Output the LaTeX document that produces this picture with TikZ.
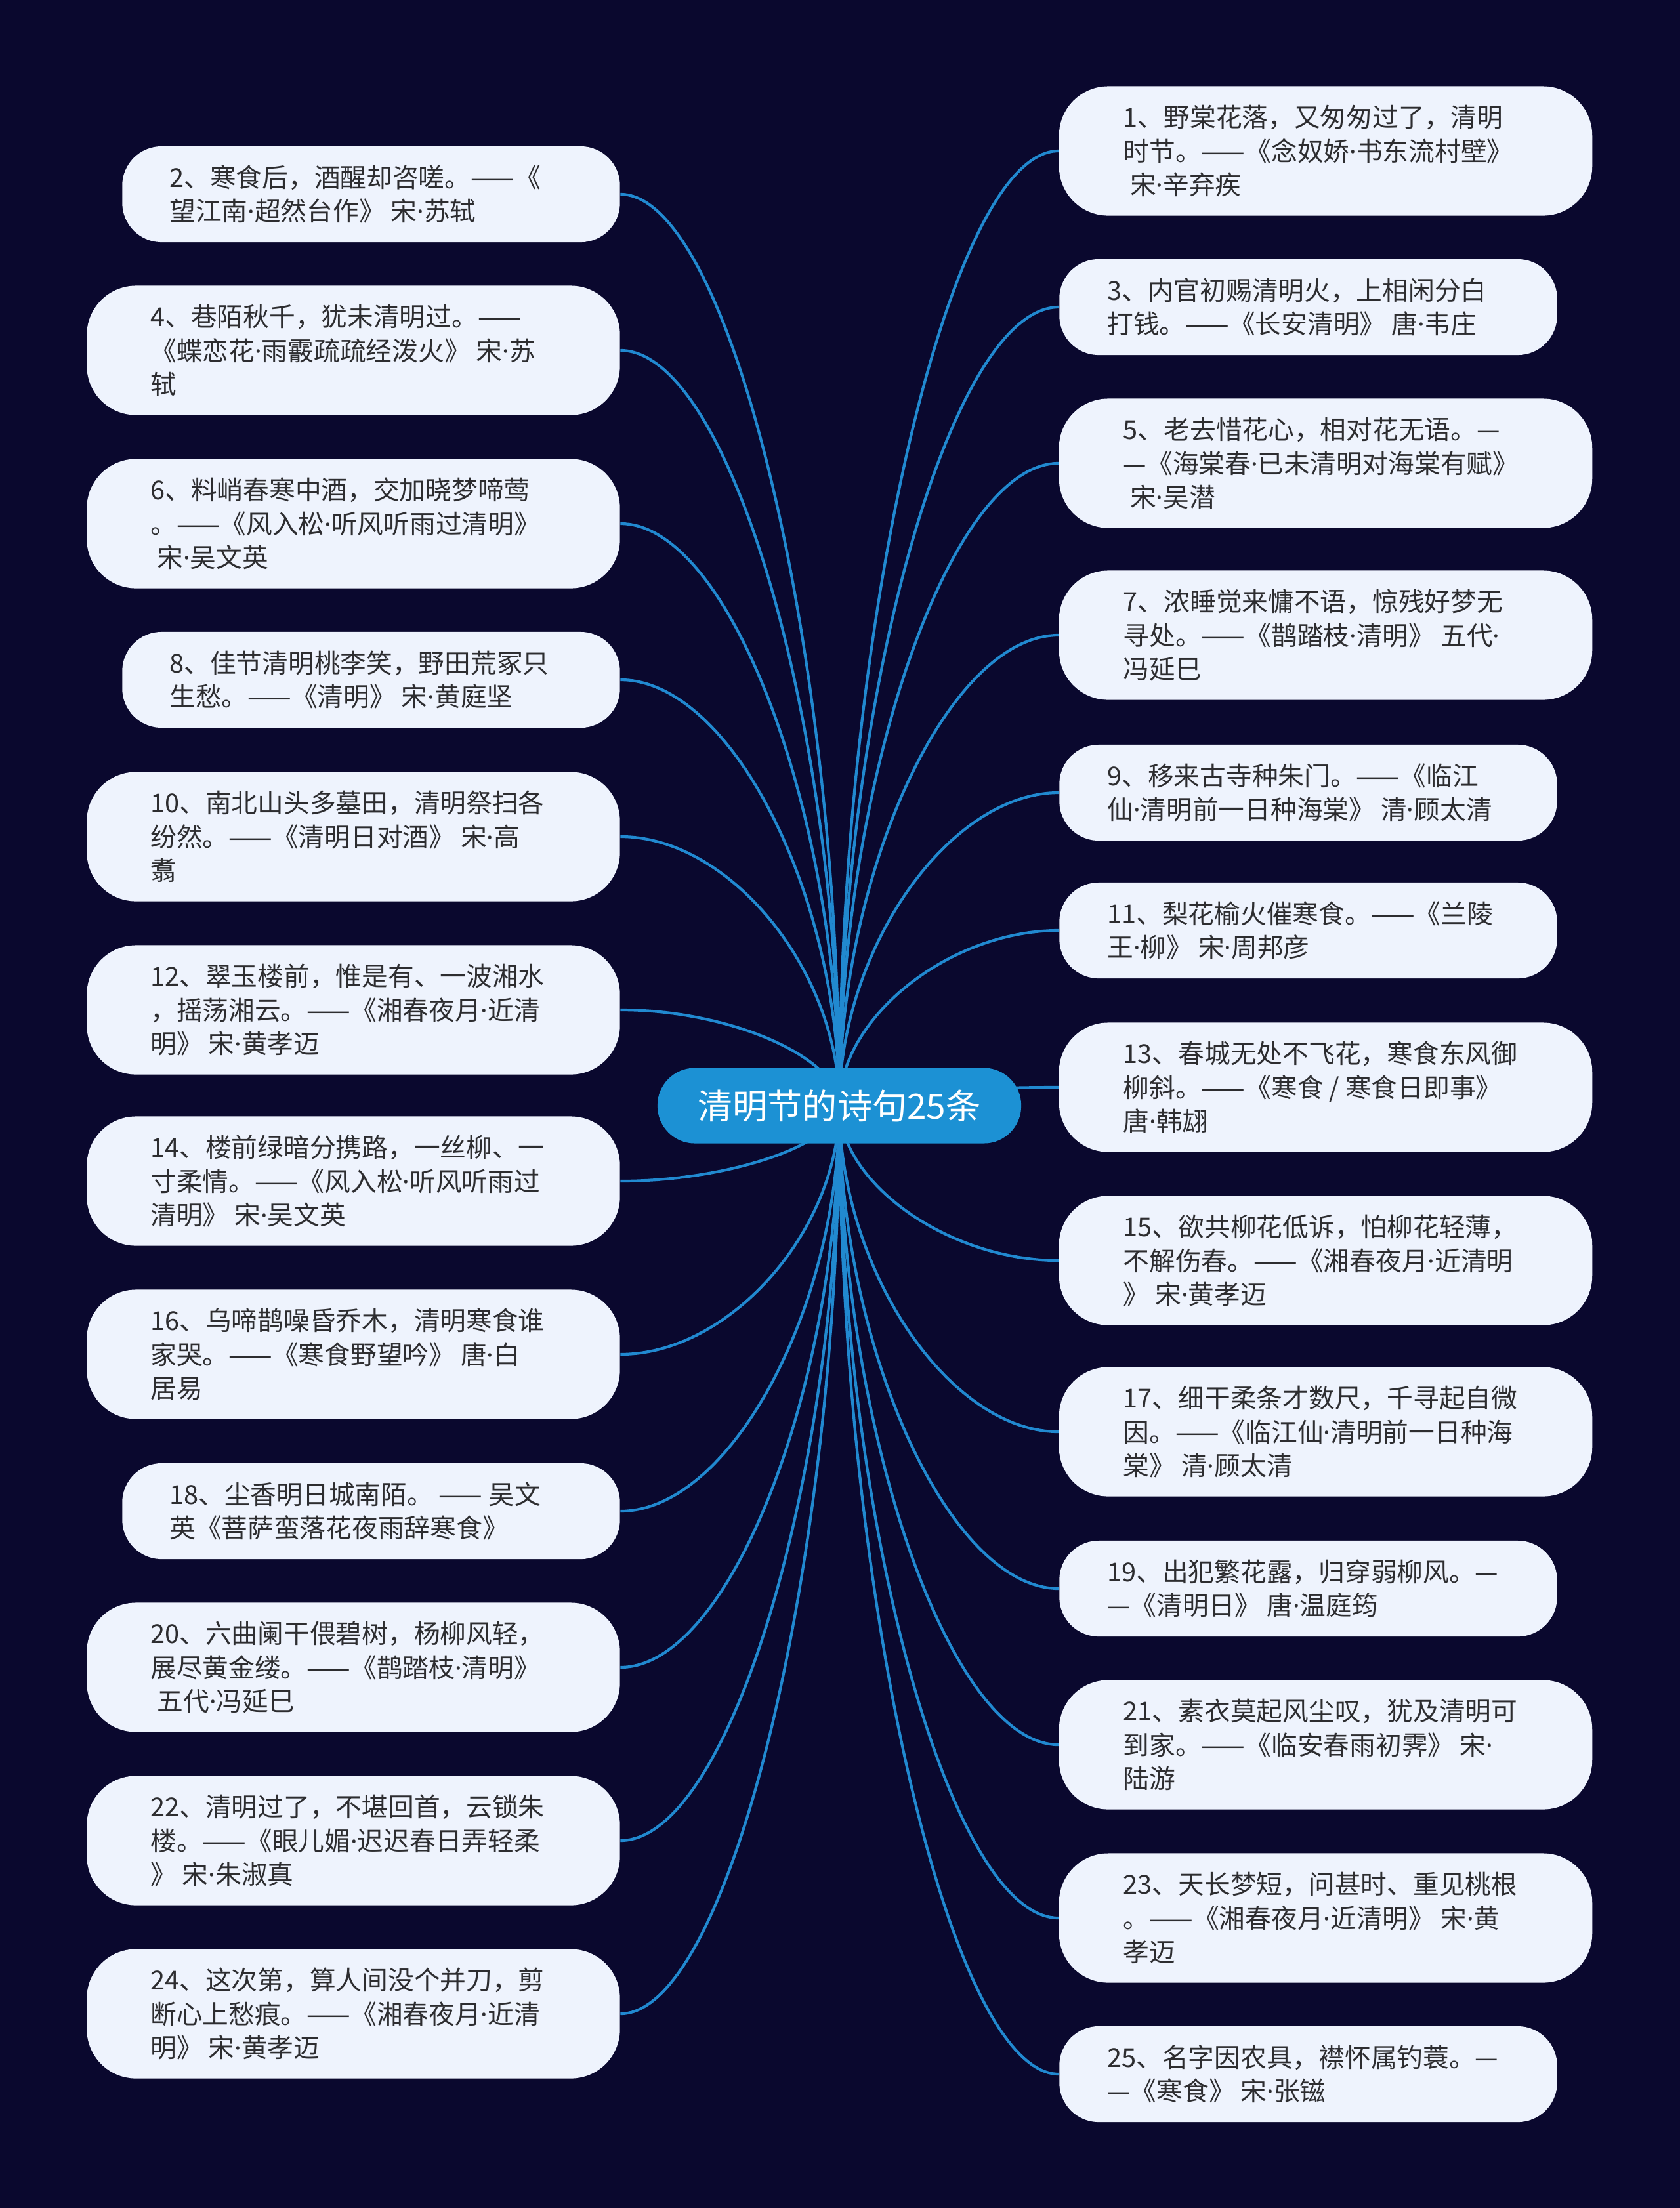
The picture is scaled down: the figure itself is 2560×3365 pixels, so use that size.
\documentclass[tikz,border=0pt]{standalone}
\usepackage{fontspec}
\setmainfont{Noto Sans CJK SC}
\newfontfamily\dotfont{Noto Sans}
\usetikzlibrary{calc}
\definecolor{bgc}{RGB}{10,8,46}
\definecolor{boxc}{RGB}{238,243,253}
\definecolor{txtc}{RGB}{45,45,48}
\definecolor{edgec}{RGB}{33,137,208}
\definecolor{rootc}{RGB}{28,145,212}
\pgfdeclarelayer{bglayer}
\pgfdeclarelayer{edgelayer}
\pgfsetlayers{bglayer,edgelayer,main}
\newcommand\lsp{\hspace*{0.26em}}
\newcommand\md{{\dotfont ·}}
\newcommand\mkleaf[6]{%
  \node[#2] (n#1) at (#3,#4) {};
  \node[txt] (t#1) at ($(n#1.west)+(#5,0)$) {#6};}
\newcommand\linkR[1]{\draw[edge] let \p1=(root.center), \p2=(n#1.west) in
  (\p1) .. controls (\x1,{0.5*\y1+0.5*\y2}) and ({0.5*\x1+0.5*\x2},\y2) .. (\p2);}
\newcommand\linkL[1]{\draw[edge] let \p1=(root.center), \p2=(n#1.east) in
  (\p1) .. controls (\x1,{0.5*\y1+0.5*\y2}) and ({0.5*\x1+0.5*\x2},\y2) .. (\p2);}
\begin{document}
\begin{tikzpicture}[x=0.01cm,y=-0.01cm,
  boxthree/.style={fill=boxc,rounded corners=0.75cm,minimum width=8.12cm,minimum height=1.97cm,inner sep=0pt},
  boxtwo/.style={fill=boxc,rounded corners=0.6cm,minimum width=7.58cm,minimum height=1.46cm,inner sep=0pt},
  txt/.style={anchor=west,align=left,inner sep=0pt,text=txtc,font=\fontsize{11.3pt}{14.65pt}\selectfont},
  rootbox/.style={fill=rootc,text=white,rounded corners=0.57cm,minimum width=5.54cm,minimum height=1.15cm,inner sep=0pt,font=\fontsize{15.1pt}{18pt}\selectfont},
  edge/.style={draw=edgec,line width=1.2pt}]
\begin{pgfonlayer}{bglayer}
\fill[bgc] (0,0) rectangle (2560,3365);
\end{pgfonlayer}
\useasboundingbox (0,0) rectangle (2560,3365);

\node[rootbox] (root) at (1279,1685) {清明节的诗句25条};

% left side
\mkleaf{2}{boxtwo}{565.5}{296}{72}{2、寒食后，酒醒却咨嗟。——《\\望江南\md 超然台作》 宋\md 苏轼}
\mkleaf{4}{boxthree}{538.5}{534}{97}{4、巷陌秋千，犹未清明过。——\\《蝶恋花\md 雨霰疏疏经泼火》 宋\md 苏\\轼}
\mkleaf{6}{boxthree}{538.5}{798}{97}{6、料峭春寒中酒，交加晓梦啼莺\\。——《风入松\md 听风听雨过清明》\\\lsp 宋\md 吴文英}
\mkleaf{8}{boxtwo}{565.5}{1036}{72}{8、佳节清明桃李笑，野田荒冢只\\生愁。——《清明》 宋\md 黄庭坚}
\mkleaf{10}{boxthree}{538.5}{1275}{97}{10、南北山头多墓田，清明祭扫各\\纷然。——《清明日对酒》 宋\md 高\\翥}
\mkleaf{12}{boxthree}{538.5}{1539}{97}{12、翠玉楼前，惟是有、一波湘水\\，摇荡湘云。——《湘春夜月\md 近清\\明》 宋\md 黄孝迈}
\mkleaf{14}{boxthree}{538.5}{1800}{97}{14、楼前绿暗分携路，一丝柳、一\\寸柔情。——《风入松\md 听风听雨过\\清明》 宋\md 吴文英}
\mkleaf{16}{boxthree}{538.5}{2064}{97}{16、乌啼鹊噪昏乔木，清明寒食谁\\家哭。——《寒食野望吟》 唐\md 白\\居易}
\mkleaf{18}{boxtwo}{565.5}{2303}{72}{18、尘香明日城南陌。 —— 吴文\\英《菩萨蛮落花夜雨辞寒食》}
\mkleaf{20}{boxthree}{538.5}{2541}{97}{20、六曲阑干偎碧树，杨柳风轻，\\展尽黄金缕。——《鹊踏枝\md 清明》\\\lsp 五代\md 冯延巳}
\mkleaf{22}{boxthree}{538.5}{2805}{97}{22、清明过了，不堪回首，云锁朱\\楼。——《眼儿媚\md 迟迟春日弄轻柔\\》 宋\md 朱淑真}
\mkleaf{24}{boxthree}{538.5}{3069}{97}{24、这次第，算人间没个并刀，剪\\断心上愁痕。——《湘春夜月\md 近清\\明》 宋\md 黄孝迈}

% right side
\mkleaf{1}{boxthree}{2020}{230}{98}{1、野棠花落，又匆匆过了，清明\\时节。——《念奴娇\md 书东流村壁》\\\lsp 宋\md 辛弃疾}
\mkleaf{3}{boxtwo}{1993.5}{468}{73}{3、内官初赐清明火，上相闲分白\\打钱。——《长安清明》 唐\md 韦庄}
\mkleaf{5}{boxthree}{2020}{706}{98}{5、老去惜花心，相对花无语。—\\—《海棠春\md 已未清明对海棠有赋》\\\lsp 宋\md 吴潜}
\mkleaf{7}{boxthree}{2020}{968}{98}{7、浓睡觉来慵不语，惊残好梦无\\寻处。——《鹊踏枝\md 清明》 五代\md\\冯延巳}
\mkleaf{9}{boxtwo}{1993.5}{1208}{73}{9、移来古寺种朱门。——《临江\\仙\md 清明前一日种海棠》 清\md 顾太清}
\mkleaf{11}{boxtwo}{1993.5}{1418}{73}{11、梨花榆火催寒食。——《兰陵\\王\md 柳》 宋\md 周邦彦}
\mkleaf{13}{boxthree}{2020}{1657}{98}{13、春城无处不飞花，寒食东风御\\柳斜。——《寒食 / 寒食日即事》\\唐\md 韩翃}
\mkleaf{15}{boxthree}{2020}{1921}{98}{15、欲共柳花低诉，怕柳花轻薄，\\不解伤春。——《湘春夜月\md 近清明\\》 宋\md 黄孝迈}
\mkleaf{17}{boxthree}{2020}{2182}{98}{17、细干柔条才数尺，千寻起自微\\因。——《临江仙\md 清明前一日种海\\棠》 清\md 顾太清}
\mkleaf{19}{boxtwo}{1993.5}{2421}{73}{19、出犯繁花露，归穿弱柳风。—\\—《清明日》 唐\md 温庭筠}
\mkleaf{21}{boxthree}{2020}{2659}{98}{21、素衣莫起风尘叹，犹及清明可\\到家。——《临安春雨初霁》 宋\md\\陆游}
\mkleaf{23}{boxthree}{2020}{2923}{98}{23、天长梦短，问甚时、重见桃根\\。——《湘春夜月\md 近清明》 宋\md 黄\\孝迈}
\mkleaf{25}{boxtwo}{1993.5}{3161}{73}{25、名字因农具，襟怀属钓蓑。—\\—《寒食》 宋\md 张镃}

\begin{pgfonlayer}{edgelayer}
\foreach \k in {2,4,6,8,10,12,14,16,18,20,22,24} {\linkL{\k}}
\foreach \k in {1,3,5,7,9,11,13,15,17,19,21,23,25} {\linkR{\k}}
\end{pgfonlayer}
\end{tikzpicture}
\end{document}
